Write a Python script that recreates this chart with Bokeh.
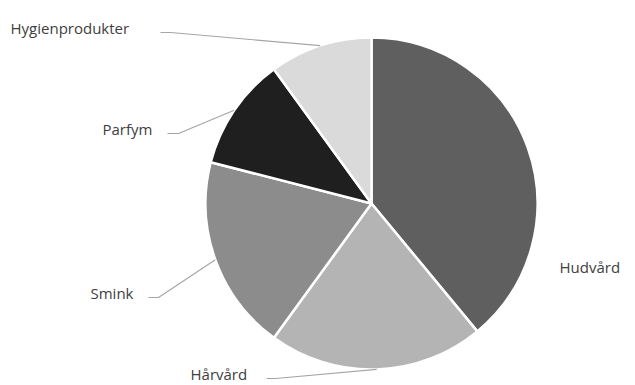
import numpy as np
from bokeh.plotting import figure
from bokeh.models import Range1d, ColumnDataSource
from bokeh.core.properties import value
from bokeh.embed import file_html
from bokeh.resources import INLINE

# data
categories = ["Hudvård", "Hårvård", "Smink", "Parfym", "Hygienprodukter"]
values = [39, 21, 19, 11, 10]
colors = ["#5f5f5f", "#b4b4b4", "#8c8c8c", "#1f1f1f", "#dadada"]

# layout (pixel space, y measured from top)
W, H = 635, 385
cx, cy, R = 371, 203, 166
label_x = [559, 190, 90, 102, 10]
label_y = [266, 373, 292, 128, 27]
# leader elbow x (None = no leader)
elbow = [None, (266, 275), (148, 158), (167, 178), (160, 170)]

vals = np.array(values, dtype=float)
frac = vals / vals.sum()
cum = np.concatenate([[0], np.cumsum(frac)])
start = np.pi / 2 - 2 * np.pi * cum[:-1]
end = np.pi / 2 - 2 * np.pi * cum[1:]
mid = (start + end) / 2

def fy(y):
    return H - y

p = figure(width=W, height=H, x_range=Range1d(0, W), y_range=Range1d(0, H),
           output_backend="svg", toolbar_location=None, min_border=0)
p.axis.visible = False
p.grid.visible = False
p.outline_line_color = None
p.background_fill_color = "white"

src = ColumnDataSource(dict(start=start, end=end, color=colors, cat=categories))
p.wedge(x=cx, y=fy(cy), radius=R, start_angle="start", end_angle="end",
        direction="clock", fill_color="color", line_color="white",
        line_width=2.5, source=src)

# leader lines
for i, e in enumerate(elbow):
    if e is None:
        continue
    ex = cx + R * np.cos(mid[i])
    ey = fy(cy) + R * np.sin(mid[i])
    ly = fy(label_y[i]) - 5
    p.line([e[0], e[1], ex], [ly, ly, ey], line_color="#a6a6a6", line_width=1.2)

p.text(x=label_x, y=[fy(v) for v in label_y], text=categories,
       text_font=value("Open Sans"), text_font_size="15px",
       text_color="#404040", text_baseline="middle", text_align="left")

open("out.html", "w").write(file_html(p, INLINE))
